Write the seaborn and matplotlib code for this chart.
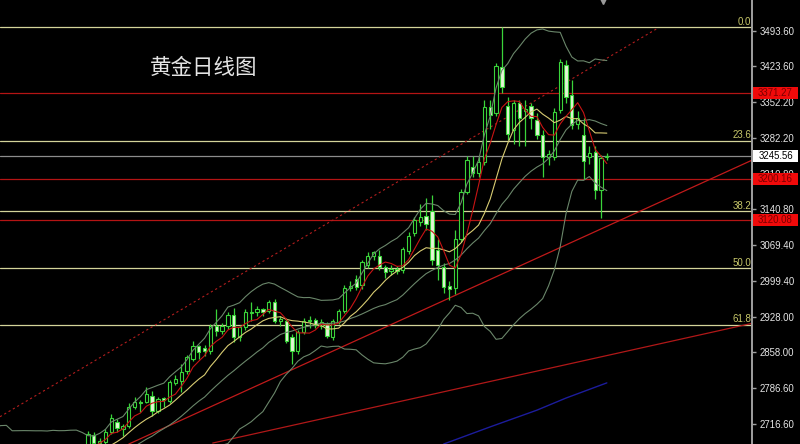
import numpy as np
import pandas as pd
import seaborn as sns
import matplotlib.pyplot as plt
from matplotlib.patches import Rectangle

# 日K线数据
opens = [2671, 2694, 2678, 2680, 2700, 2720, 2706, 2712, 2750, 2760,
         2760, 2771, 2742, 2767, 2762, 2797, 2801, 2820, 2844, 2870,
         2866, 2860, 2909, 2899, 2909, 2931, 2887, 2907, 2936, 2937,
         2943, 2939, 2957, 2919, 2919, 2888, 2860, 2897, 2919, 2921,
         2910, 2913, 2888, 2917, 2940, 2985, 3002, 2990, 3031, 3047,
         3047, 3026, 3018, 3022, 3020, 3057, 3094, 3116, 3128, 3136,
         3060, 3027, 2988, 2984, 3082, 3175, 3223, 3213, 3233, 3343,
         3330, 3422, 3345, 3298, 3351, 3334, 3345, 3317, 3288, 3243,
         3244, 3337, 3426, 3367, 3310, 3288, 3243, 3254, 3179, 3243]
highs = [2702, 2700, 2688, 2705, 2735, 2726, 2716, 2758, 2770, 2764,
         2789, 2780, 2770, 2770, 2803, 2813, 2834, 2852, 2880, 2872,
         2872, 2914, 2943, 2915, 2937, 2946, 2912, 2943, 2957, 2950,
         2946, 2960, 2963, 2930, 2925, 2893, 2902, 2925, 2929, 2925,
         2923, 2918, 2923, 2943, 2990, 2998, 3010, 3040, 3055, 3058,
         3060, 3030, 3030, 3028, 3065, 3095, 3125, 3150, 3163, 3168,
         3082, 3035, 2998, 3099, 3180, 3245, 3245, 3245, 3357, 3357,
         3430, 3500, 3363, 3357, 3357, 3357, 3350, 3330, 3297, 3257,
         3340, 3437, 3436, 3396, 3335, 3320, 3265, 3265, 3248, 3252]
lows = [2667, 2673, 2672, 2675, 2695, 2700, 2692, 2708, 2745, 2740,
        2757, 2732, 2738, 2750, 2757, 2792, 2778, 2815, 2840, 2845,
        2850, 2855, 2890, 2893, 2903, 2878, 2880, 2902, 2920, 2930,
        2929, 2935, 2915, 2909, 2875, 2834, 2854, 2893, 2906, 2906,
        2904, 2885, 2882, 2913, 2935, 2978, 2980, 2982, 3025, 3040,
        3020, 3005, 3010, 3012, 3015, 3052, 3088, 3108, 3100, 3030,
        3000, 2975, 2960, 2972, 3075, 3170, 3205, 3205, 3228, 3300,
        3325, 3370, 3278, 3270, 3266, 3266, 3300, 3280, 3205, 3228,
        3238, 3330, 3350, 3300, 3300, 3200, 3230, 3160, 3124, 3238]
closes = [2696, 2678, 2683, 2700, 2728, 2708, 2712, 2750, 2760, 2757,
          2775, 2742, 2765, 2763, 2799, 2805, 2818, 2848, 2870, 2858,
          2860, 2909, 2899, 2909, 2931, 2887, 2907, 2937, 2938, 2943,
          2937, 2957, 2919, 2923, 2880, 2860, 2897, 2919, 2921, 2911,
          2917, 2890, 2919, 2939, 2985, 2988, 2986, 3036, 3047, 3055,
          3026, 3016, 3022, 3018, 3061, 3087, 3120, 3126, 3112, 3040,
          3030, 2986, 2982, 3082, 3175, 3238, 3213, 3233, 3343, 3327,
          3424, 3382, 3290, 3351, 3321, 3338, 3321, 3288, 3243, 3250,
          3333, 3432, 3363, 3308, 3320, 3235, 3252, 3179, 3242, 3245.56]
# 图左侧之前的收盘价 (在图下方, 只用于计算均线和布林带)
pre_closes = [2650, 2670, 2712, 2616, 2633, 2638, 2640, 2643, 2640, 2643,
              2650, 2632, 2633, 2660, 2694, 2718, 2681, 2648, 2652, 2646,
              2586, 2594, 2622, 2613, 2617, 2633, 2621, 2606, 2624, 2658,
              2640, 2636, 2648, 2662, 2669]

price_ticks = [3493.60, 3423.60, 3352.20, 3282.20, 3210.80, 3140.80,
               3069.40, 2999.40, 2928.00, 2858.00, 2786.60, 2716.60]
fib_levels = [3500.0, 3275.8, 3136.0, 3023.5, 2911.5]
fib_labels = ["0.0", "23.6", "38.2", "50.0", "61.8"]
red_levels = [3371.27, 3200.16, 3120.08]
last_price = 3245.56

# 趋势线端点 (K线序号, 价格)
channel_x = [-15.1, 97.8]
channel_y = [2730, 3499]
support1_x = [7.0, 114.0]
support1_y = [2676, 3238]
support2_x = [21.4, 114.0]
support2_y = [2678, 2915]
blue_x = [61, 69, 77, 82, 89]
blue_y = [2676, 2710, 2743, 2767, 2797]

y_min, y_max = 2676.1, 3554.3
x_min, x_max = -15.09, 113.9

sns.set_theme(style="dark")
plt.rcParams['font.family'] = ['Liberation Sans', 'DejaVu Sans']

fig = plt.figure(figsize=(8, 4.44), dpi=100, facecolor='black')
ax = fig.add_axes([0, 0, 752 / 800, 1])
ax.set_facecolor('black')

# 指标
idx = np.arange(len(closes))
all_close = pd.Series(pre_closes + closes,
                      index=np.arange(-len(pre_closes), len(closes)))
ind = pd.DataFrame({'idx': all_close.index, 'close': all_close.values})
ind['ma5'] = ind['close'].rolling(5).mean()
ind['ma10'] = ind['close'].rolling(10).mean()
ind['mid'] = ind['close'].rolling(20).mean()
sd = ind['close'].rolling(20).std(ddof=0)
ind['up'] = ind['mid'] + 2 * sd
ind['dn'] = ind['mid'] - 2 * sd
ind = ind[ind['idx'] >= -16]

# 水平线
for lv in fib_levels:
    ax.axhline(lv, color='#d4d49a', lw=0.9, zorder=1)
for lv in red_levels:
    ax.axhline(lv, color='#b41414', lw=0.9, zorder=1)
ax.axhline(last_price, color='#8c8c8c', lw=0.9, zorder=1)

# 趋势线
sns.lineplot(x=channel_x, y=channel_y, ax=ax, color='#b41e1e', lw=0.8,
             linestyle=(0, (2, 2.5)), zorder=2)
sns.lineplot(x=support1_x, y=support1_y, ax=ax, color='#c01a1a', lw=0.9, zorder=2)
sns.lineplot(x=support2_x, y=support2_y, ax=ax, color='#b01818', lw=0.9, zorder=2)
sns.lineplot(x=blue_x, y=blue_y, ax=ax, color='#1c1c9c', lw=1.0, zorder=2)

# K线
o = np.array(opens, float)
c = np.array(closes, float)
green = '#3ad43a'
ax.vlines(idx, lows, highs, color=green, lw=0.9, zorder=3)
body_h = np.maximum(np.abs(c - o), 2.0)
body_b = np.minimum(o, c)
face = np.where(c >= o, 'black', '#e4f4d6')
ax.bar(idx, body_h, bottom=body_b, width=0.56, color=face,
       edgecolor=green, linewidth=0.8, zorder=4)

# 均线 / 布林带
for col, colr in [('up', '#6a866a'), ('mid', '#6a866a'), ('dn', '#6a866a'),
                  ('ma10', '#d8cc72'), ('ma5', '#c81414')]:
    sns.lineplot(data=ind, x='idx', y=col, ax=ax, color=colr, lw=0.8,
                 zorder=5, legend=False)

# 顶部的小标记
ax.plot([88.3], [y_max - 2], marker='v', ms=4.5, color='#9a9a9a',
        clip_on=False, zorder=6)

ax.set_xlim(x_min, x_max)
ax.set_ylim(y_min, y_max)
ax.set_xlabel('')
ax.set_ylabel('')
ax.set_xticks([])

# 右侧价格轴
ax.yaxis.tick_right()
ax.set_yticks(price_ticks)
ax.set_yticklabels([f"{v:.2f}" for v in price_ticks])
ax.tick_params(axis='y', length=3, width=1, color='#a0a0a0', labelcolor='#e6e6e6',
               labelsize=6.9, pad=2.5, right=True, left=False)
ax.grid(False)
for s in ['left', 'top', 'bottom']:
    ax.spines[s].set_visible(False)
ax.spines['right'].set_color('#a0a0a0')
ax.spines['right'].set_linewidth(1.4)

# 斐波那契标签
for lv, lb in zip(fib_levels, fib_labels):
    ax.text(0.999, lv + 1.5, lb, transform=ax.get_yaxis_transform(),
            ha='right', va='bottom', color='#c8c86a', fontsize=7)

# 价格标签框
def tag(price, text, fc, tc):
    yf = (price - y_min) / (y_max - y_min)
    h = 12 / 444
    fig.add_artist(Rectangle((753 / 800, yf - h / 2), 45 / 800, h,
                             transform=fig.transFigure, facecolor=fc,
                             edgecolor='none', zorder=10))
    fig.text(775.5 / 800, yf, text, ha='center', va='center', color=tc,
             fontsize=6.9, zorder=11)

for lv in red_levels:
    tag(lv, f"{lv:.2f}", '#f00a0a', '#7a0000')
tag(last_price, f"{last_price:.2f}", 'white', 'black')

# 标题
ax.text(150 / 752, 1 - 68 / 444, "黄金日线图", transform=ax.transAxes,
        fontsize=15.5, color='#e4e4e4', ha='left', va='center',
        family=['Noto Sans CJK SC', 'DejaVu Sans'])

fig.savefig('out.png', dpi=100, facecolor='black')
